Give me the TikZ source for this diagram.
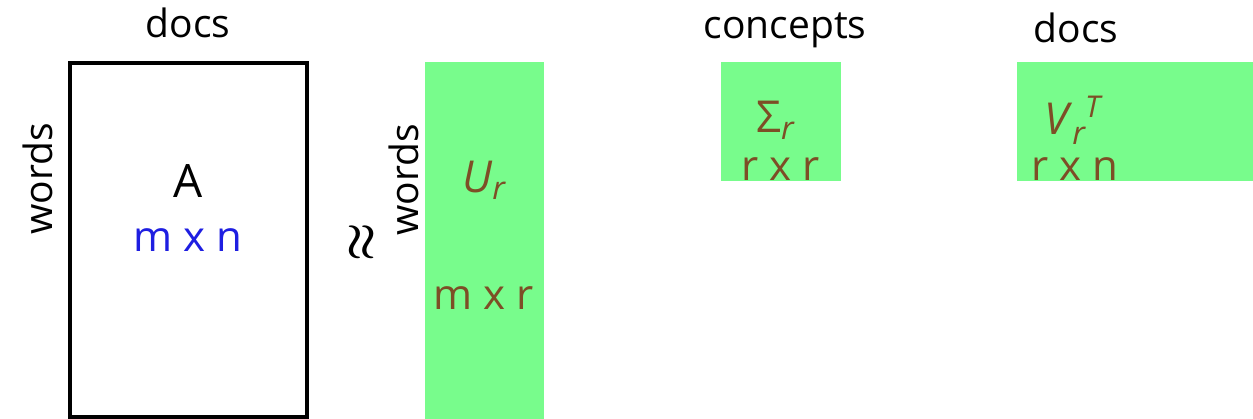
\documentclass[tikz,border=0pt]{standalone}
\usepackage{fontspec}
\setmainfont{Open Sans}
\usetikzlibrary{positioning}

\definecolor{matgreen}{RGB}{120,252,140}
\definecolor{matbrown}{RGB}{125,78,38}
\definecolor{dimblue}{RGB}{30,30,225}
\newcommand{\fsz}[1]{\fontsize{#1}{#1}\selectfont}
\newcommand{\lowr}[2]{\raisebox{-#1pt}{\fsz{32}\itshape #2}}

\begin{document}
\begin{tikzpicture}[x=1pt, y=-1pt,
  matbox/.style={fill=matgreen, inner sep=0pt},
  lbl/.style={inner sep=0pt, font=\fsz{39}},
  sym/.style={inner sep=0pt, text=matbrown, font=\fsz{44}, anchor=base west},
  dims/.style={inner sep=0pt, text=matbrown, font=\fsz{42}, anchor=base}
]
\useasboundingbox (0,0) rectangle (1253,419);
% matrices
\node[draw, line width=4pt, inner sep=0pt, minimum width=237pt, minimum height=354pt] (A) at (188,240) {};
\node[matbox, minimum width=119pt, minimum height=357pt] (U) at (484.5,240.5) {};
\node[matbox, minimum width=120pt, minimum height=119pt] (S) at (781,121.5) {};
\node[matbox, minimum width=236pt, minimum height=119pt] (V) at (1135,121.5) {};
% headers
\node[lbl, above=23pt of A.north, anchor=base] (docsA) {docs};
\node[lbl, above=23pt of S.north, anchor=base, xshift=4pt] (concepts) {concepts};
\node[lbl, above=19pt of V.north, anchor=base, xshift=-59pt] (docsV) {docs};
\node[lbl, rotate=90, anchor=base] (wordsA) at (52,179) {words};
\node[lbl, rotate=90, anchor=base] (wordsU) at (418,180) {words};
\node[inner sep=0pt, rotate=90] (approx) at (363,242.5) {\scalebox{4.3}[5]{\boldmath$\approx$}};
% labels
\node[inner sep=0pt, font=\fsz{46}, anchor=base] (Alab) at (188,198) {A};
\node[inner sep=0pt, font=\fsz{42}, text=dimblue, anchor=base] (Adim) at (188,252) {m x n};
\node[sym] (Ulab) at (462,193) {\textit{U}\lowr{7}{r}};
\node[dims] (Udim) at (483.5,310) {m x r};
\node[sym] (Slab) at (756,133) {Σ\lowr{7}{r}};
\node[dims] (Sdim) at (781,181) {r x r};
\node[sym] (Vlab) at (1044,135) {\textit{V}\lowr{10}{r}\raisebox{17pt}{\fsz{30}\itshape T}};
\node[dims] (Vdim) at (1075,181) {r x n};
\end{tikzpicture}
\end{document}
